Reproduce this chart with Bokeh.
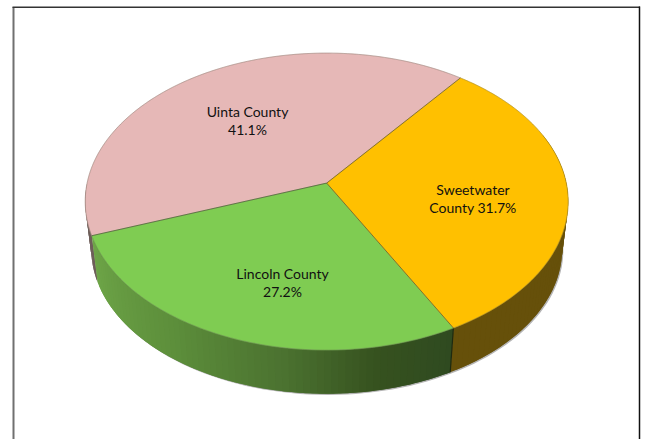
import math
from bokeh.embed import file_html
from bokeh.resources import INLINE
from bokeh.plotting import figure
from bokeh.core.properties import value

# Share of each county, drawn counter-clockwise from the first slice's start angle
counties = ["Uinta County", "Lincoln County", "Sweetwater County"]
shares = [41.1, 27.2, 31.7]
label_lines = [["Uinta County", "41.1%"], ["Lincoln County", "27.2%"], ["Sweetwater", "County 31.7%"]]

top_colors = ["#E6B8B7", "#7FCC52", "#FFC000"]
wall_stops = [
    [(0.0, "#6E5E5A"), (1.0, "#6E5E5A")],
    [(0.0, "#6EA548"), (0.35, "#5D8F3B"), (0.62, "#4B7230"), (0.82, "#36521F"), (1.0, "#2F4A20")],
    [(0.0, "#66500A"), (1.0, "#66500A")],
]
label_anchors = [(247, 120), (282, 282), (472.5, 198)]

# Perspective projection of the unit disc onto the page
START_DEG = 52.2
CX, APEX_Y, A, B, K = 326.2, 182.6, 239.6, 146.2, 0.1245
BASE_SCALE, BASE_APEX_Y = 0.975, 230.4


def project(deg, radius=1.0, scale=1.0, apex=APEX_Y):
    a = math.radians(deg)
    xu, yu = radius * math.cos(a), radius * math.sin(a)
    w = 1 + K * yu
    return CX + scale * A * xu / w, apex - scale * B * yu / w


def hex_mix(stops, t):
    for (t0, c0), (t1, c1) in zip(stops, stops[1:]):
        if t <= t1:
            f = 0 if t1 == t0 else (t - t0) / (t1 - t0)
            rgb = [round(int(c0[i:i + 2], 16) * (1 - f) + int(c1[i:i + 2], 16) * f) for i in (1, 3, 5)]
            return "#%02X%02X%02X" % tuple(rgb)
    return stops[-1][1]


# Slice angle spans derived from the shares
total = sum(shares)
spans = []
angle = START_DEG
for s in shares:
    end = angle + 360.0 * s / total
    spans.append((angle, end))
    angle = end

p = figure(width=646, height=439, x_range=(0, 646), y_range=(439, 0),
           toolbar_location=None, output_backend="svg", min_border=0,
           outline_line_color=None, background_fill_color="white")
p.axis.visible = False
p.grid.visible = False

# Chart frame, open at the bottom of the page
p.segment([13], [6.5], [13], [439], line_color="#707070", line_width=2)
p.segment([12], [6.8], [639.5], [6.8], line_color="#333333", line_width=1.5)
p.segment([639], [6], [639], [439], line_color="#111111", line_width=1.5)

# Faint shadow under the pie's base
sx, sy = [], []
for d in range(0, 361, 2):
    x, y = project(d, scale=BASE_SCALE, apex=BASE_APEX_Y)
    sx.append(x + 1.2)
    sy.append(y + 1.2)
p.patch(sx, sy, fill_color="#B4B4B4", line_color=None)

# Outer wall: overlapping strips, each painted over the last, keep the shading seamless
for (a0, a1), stops in zip(spans, wall_stops):
    lo = max(a0, 180.0)
    hi = min(a1, 380.0)
    if hi <= lo:
        continue
    n = max(1, int((hi - lo) / 1.5))
    for i in range(n):
        d0 = lo + (hi - lo) * i / n
        d1 = hi if i == n - 1 else lo + (hi - lo) * (i + 1) / n + 1.5
        arc = [d0 + (d1 - d0) * j / 3 for j in range(4)]
        top = [project(d) for d in arc]
        base = [project(d, scale=BASE_SCALE, apex=BASE_APEX_Y) for d in reversed(arc)]
        ring = top + base
        p.patch([q[0] for q in ring], [q[1] for q in ring],
                fill_color=hex_mix(stops, (i + 0.5) / n), line_color=None)

# Dark edge where the green and yellow walls meet
seam = spans[2][0]
t = project(seam)
b = project(seam, scale=BASE_SCALE, apex=BASE_APEX_Y)
p.line([t[0], b[0]], [t[1], b[1]], line_color="#1E2A10", line_width=1.2)

# Top face of each slice
for (a0, a1), color in zip(spans, top_colors):
    n = max(2, int(a1 - a0))
    pts = [project(a0 + (a1 - a0) * i / n) for i in range(n + 1)]
    xs = [CX] + [q[0] for q in pts]
    ys = [APEX_Y] + [q[1] for q in pts]
    p.patch(xs, ys, fill_color=color, line_color=color, line_width=0.5)

# Dark hairlines along slice boundaries and the rim
for (a0, a1) in spans:
    q = project(a0)
    p.line([CX, q[0]], [APEX_Y, q[1]], line_color="#4A4A3A", line_width=0.9, line_alpha=0.75)
    n = max(2, int(a1 - a0))
    pts = [project(a0 + (a1 - a0) * i / n) for i in range(n + 1)]
    p.line([q[0] for q in pts], [q[1] for q in pts], line_color="#5A5A4A", line_width=0.7, line_alpha=0.45)

# Category and percentage labels
for lines, (lx, ly) in zip(label_lines, label_anchors):
    p.text([lx, lx], [ly - 9, ly + 9], text=lines, text_font=value("Lato"), text_font_size="14px",
           text_color="#111111", text_align="center", text_baseline="middle")

open("out.html", "w").write(file_html(p, INLINE))
